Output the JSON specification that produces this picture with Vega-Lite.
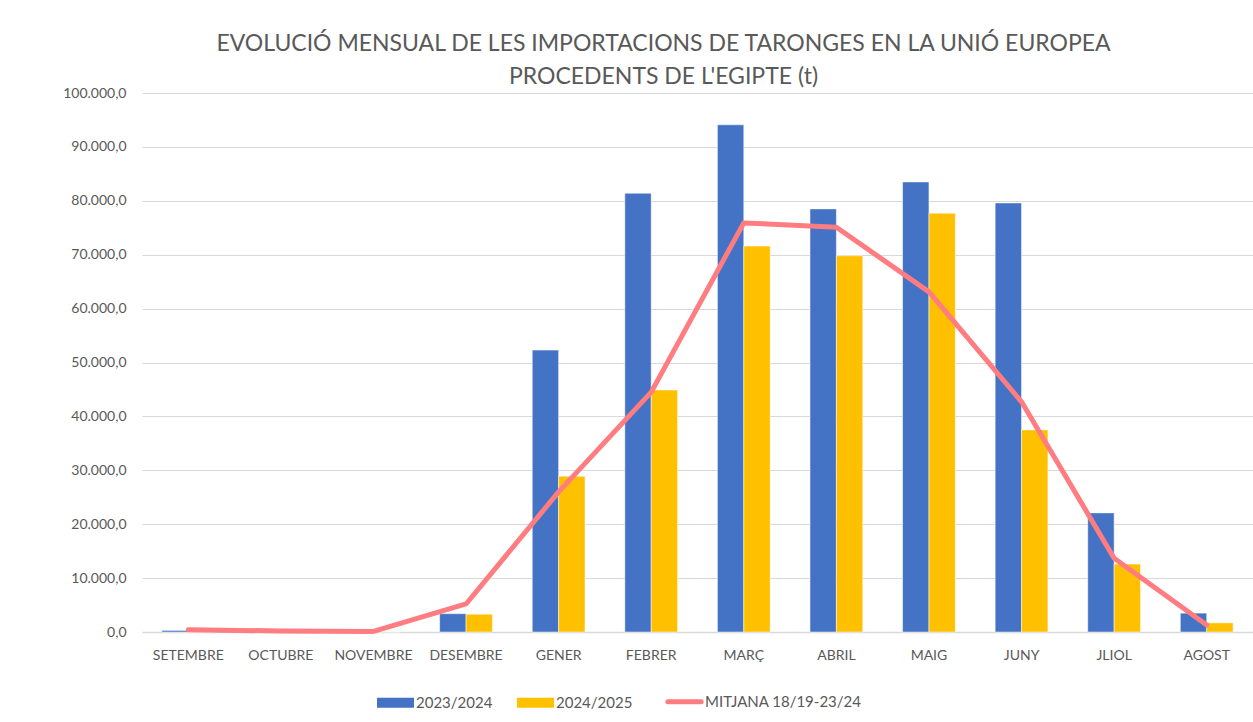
{
  "$schema": "https://vega.github.io/schema/vega-lite/v6.json",
  "autosize": {"type": "none"},
  "width": 1111,
  "height": 539,
  "padding": {"left": 142, "top": 93, "right": 0, "bottom": 90},
  "background": "white",
  "config": {
    "locale": {"number": {"decimal": ",", "thousands": ".", "grouping": [3], "currency": ["", " €"]}},
    "font": "Lato",
    "view": {"stroke": null},
    "axis": {"labelFont": "Lato", "labelColor": "#595959", "labelFontSize": 14, "ticks": false, "title": null}
  },
  "title": {
    "text": ["EVOLUCIÓ MENSUAL DE LES IMPORTACIONS DE TARONGES EN LA UNIÓ EUROPEA", "PROCEDENTS DE L'EGIPTE (t)"],
    "fontSize": 23,
    "font": "Lato",
    "fontWeight": "normal",
    "color": "#595959",
    "anchor": "middle",
    "dx": -34,
    "offset": -3,
    "lineHeight": 33
  },
  "datasets": {
    "bars": [
      {"mes": "SETEMBRE", "serie": "2023/2024", "valor": 300},
      {"mes": "SETEMBRE", "serie": "2024/2025", "valor": 0},
      {"mes": "OCTUBRE", "serie": "2023/2024", "valor": 0},
      {"mes": "OCTUBRE", "serie": "2024/2025", "valor": 0},
      {"mes": "NOVEMBRE", "serie": "2023/2024", "valor": 0},
      {"mes": "NOVEMBRE", "serie": "2024/2025", "valor": 0},
      {"mes": "DESEMBRE", "serie": "2023/2024", "valor": 3400},
      {"mes": "DESEMBRE", "serie": "2024/2025", "valor": 3300},
      {"mes": "GENER", "serie": "2023/2024", "valor": 52300},
      {"mes": "GENER", "serie": "2024/2025", "valor": 28900},
      {"mes": "FEBRER", "serie": "2023/2024", "valor": 81400},
      {"mes": "FEBRER", "serie": "2024/2025", "valor": 44900},
      {"mes": "MARÇ", "serie": "2023/2024", "valor": 94100},
      {"mes": "MARÇ", "serie": "2024/2025", "valor": 71600},
      {"mes": "ABRIL", "serie": "2023/2024", "valor": 78500},
      {"mes": "ABRIL", "serie": "2024/2025", "valor": 69800},
      {"mes": "MAIG", "serie": "2023/2024", "valor": 83500},
      {"mes": "MAIG", "serie": "2024/2025", "valor": 77700},
      {"mes": "JUNY", "serie": "2023/2024", "valor": 79600},
      {"mes": "JUNY", "serie": "2024/2025", "valor": 37500},
      {"mes": "JLIOL", "serie": "2023/2024", "valor": 22100},
      {"mes": "JLIOL", "serie": "2024/2025", "valor": 12600},
      {"mes": "AGOST", "serie": "2023/2024", "valor": 3500},
      {"mes": "AGOST", "serie": "2024/2025", "valor": 1700}
    ],
    "mitjana": [
      {"mes": "SETEMBRE", "serie": "MITJANA 18/19-23/24", "valor": 400},
      {"mes": "OCTUBRE", "serie": "MITJANA 18/19-23/24", "valor": 200},
      {"mes": "NOVEMBRE", "serie": "MITJANA 18/19-23/24", "valor": 100},
      {"mes": "DESEMBRE", "serie": "MITJANA 18/19-23/24", "valor": 5200},
      {"mes": "GENER", "serie": "MITJANA 18/19-23/24", "valor": 26000},
      {"mes": "FEBRER", "serie": "MITJANA 18/19-23/24", "valor": 44500},
      {"mes": "MARÇ", "serie": "MITJANA 18/19-23/24", "valor": 75900},
      {"mes": "ABRIL", "serie": "MITJANA 18/19-23/24", "valor": 75100},
      {"mes": "MAIG", "serie": "MITJANA 18/19-23/24", "valor": 63100},
      {"mes": "JUNY", "serie": "MITJANA 18/19-23/24", "valor": 42700},
      {"mes": "JLIOL", "serie": "MITJANA 18/19-23/24", "valor": 13700},
      {"mes": "AGOST", "serie": "MITJANA 18/19-23/24", "valor": 1300}
    ]
  },
  "encoding": {
    "x": {
      "field": "mes", "type": "nominal",
      "sort": ["SETEMBRE","OCTUBRE","NOVEMBRE","DESEMBRE","GENER","FEBRER","MARÇ","ABRIL","MAIG","JUNY","JLIOL","AGOST"],
      "scale": {"paddingInner": 0.43, "paddingOuter": 0.215},
      "axis": {"labelAngle": 0, "domainColor": "#d9d9d9", "domainWidth": 1.5, "labelPadding": 16, "grid": false}
    },
    "y": {
      "field": "valor", "type": "quantitative",
      "scale": {"domain": [0, 100000]},
      "axis": {"format": ",.1f", "labelOverlap": false, "values": [0,10000,20000,30000,40000,50000,60000,70000,80000,90000,100000], "domain": false, "gridColor": "#d9d9d9", "labelPadding": 16}
    },
    "color": {
      "field": "serie", "type": "nominal",
      "scale": {"domain": ["2023/2024", "2024/2025", "MITJANA 18/19-23/24"], "range": ["#4472C4", "#FFC000", "#FF7C80"]},
      "legend": {
        "orient": "none", "legendX": 246, "legendY": 601, "direction": "horizontal", "title": null,
        "labelFont": "Lato", "labelFontSize": 15, "labelColor": "#595959",
        "columnPadding": 24, "symbolSize": 1369, "labelOffset": 13,
        "encode": {
          "symbols": {
            "update": {
              "shape": {"signal": "datum.value === 'MITJANA 18/19-23/24' ? 'M-0.9,0H0.9' : 'M-1,-0.27H1V0.27H-1Z'"},
              "strokeWidth": {"signal": "datum.value === 'MITJANA 18/19-23/24' ? 5 : 0"},
              "strokeCap": {"value": "round"}
            }
          }
        }
      }
    }
  },
  "layer": [
    {
      "data": {"name": "bars"},
      "mark": {"type": "bar", "stroke": "white", "strokeWidth": 0.5},
      "encoding": {
        "xOffset": {"field": "serie", "type": "nominal", "sort": ["2023/2024", "2024/2025"]}
      }
    },
    {
      "data": {"name": "mitjana"},
      "mark": {"type": "line", "strokeWidth": 5, "strokeCap": "round", "strokeJoin": "round"},
      "encoding": {}
    }
  ]
}
